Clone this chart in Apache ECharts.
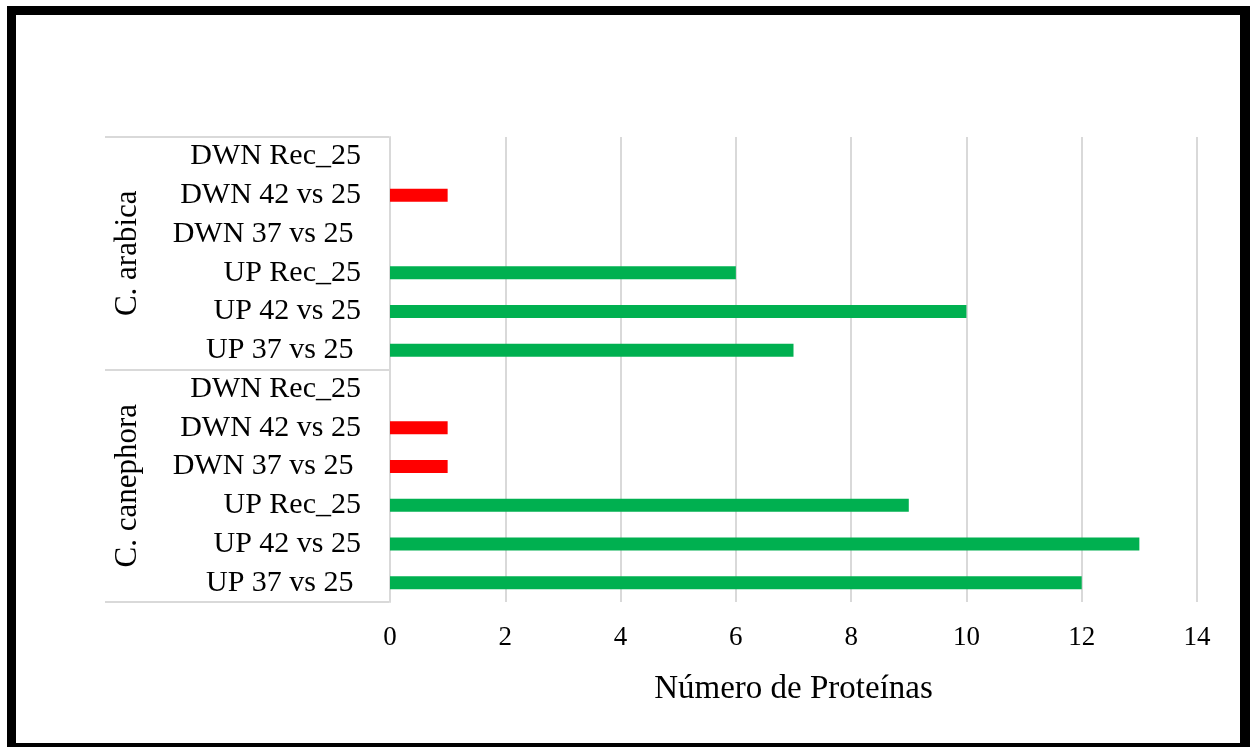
<!DOCTYPE html>
<html>
<head>
<meta charset="utf-8">
<script src="https://cdn.jsdelivr.net/npm/echarts@6/dist/echarts.min.js"></script>
<style>
  html, body { margin: 0; padding: 0; background: #fff; }
  #wrap { position: relative; width: 1255px; height: 747px; overflow: hidden; background: #fff; }
  #chart { position: absolute; left: 0; top: 0; width: 1255px; height: 747px; }
  #frame { position: absolute; left: 7px; top: 6px; width: 1224px; height: 728px;
           border-style: solid; border-color: #000; border-width: 9px 10px 4px 9px; pointer-events: none; }
</style>
</head>
<body>
<div id="wrap">
  <div id="chart"></div>
  <div id="frame"></div>
</div>
<script>
// Categories (bottom to top), per group
const groups = ['C. canephora', 'C. arabica'];
const subCategories = ['UP 37 vs 25 ', 'UP 42 vs 25', 'UP Rec_25', 'DWN 37 vs 25 ', 'DWN 42 vs 25', 'DWN Rec_25'];
const canephoraValues = [12, 13, 9, 1, 1, 0];
const arabicaValues = [7, 10, 6, 0, 1, 0];
const xTicks = { min: 0, max: 14, interval: 2 };
const axisTitle = 'Número de Proteínas';

const upColor = '#00b050';
const downColor = '#ff0000';

const categories = [...subCategories, ...subCategories];
const values = [...canephoraValues, ...arabicaValues];
const barData = values.map((v, i) => ({
  value: v,
  itemStyle: { color: categories[i].trim().startsWith('UP') ? upColor : downColor }
}));

const serif = "'Liberation Serif', 'Times New Roman', serif";
const chart = echarts.init(document.getElementById('chart'), null, { renderer: 'canvas' });
chart.setOption({
  animation: false,
  backgroundColor: 'transparent',
  grid: { left: 390, right: 58, top: 137, bottom: 145, containLabel: false },
  xAxis: {
    type: 'value',
    min: xTicks.min, max: xTicks.max, interval: xTicks.interval,
    axisLine: { show: false },
    axisTick: { show: false },
    splitLine: { show: true, lineStyle: { color: '#d9d9d9', width: 2 } },
    axisLabel: { fontFamily: serif, fontSize: 27, color: '#000', margin: 22 },
    name: axisTitle,
    nameLocation: 'middle',
    nameGap: 71,
    nameTextStyle: { fontFamily: serif, fontSize: 33, color: '#000' }
  },
  yAxis: [
    {
      type: 'category',
      data: categories,
      axisLine: { show: true, lineStyle: { color: '#d9d9d9', width: 2 } },
      axisTick: { show: false },
      axisLabel: { fontFamily: serif, fontSize: 30, color: '#000', margin: 29, interval: 0 }
    },
    {
      type: 'category',
      data: groups,
      position: 'left',
      offset: 285,
      axisLine: { show: false },
      axisTick: { show: true, inside: true, length: 284, lineStyle: { color: '#d9d9d9', width: 2 } },
      axisLabel: { inside: true, rotate: 90, fontFamily: serif, fontSize: 31, color: '#000', margin: 7 }
    }
  ],
  series: [{
    type: 'bar',
    yAxisIndex: 0,
    barWidth: 13,
    data: barData
  }]
});
</script>
</body>
</html>
